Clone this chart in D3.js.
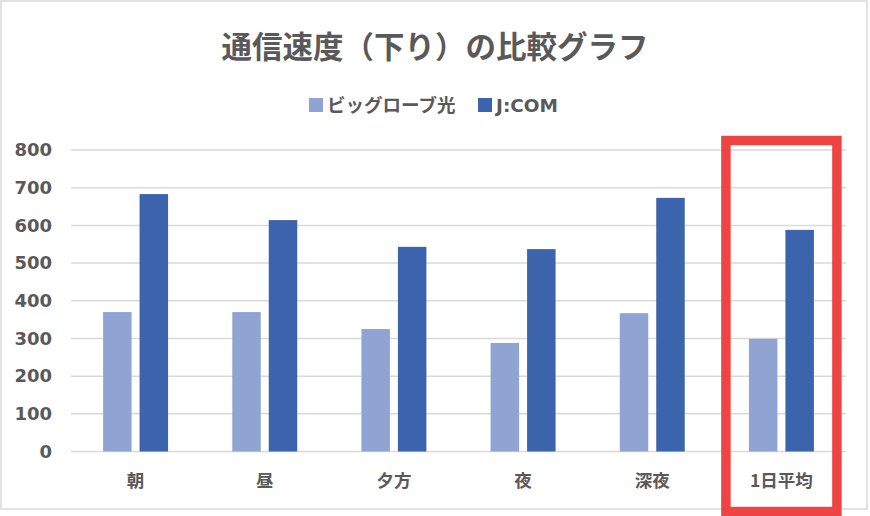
<!DOCTYPE html>
<html>
<head>
<meta charset="utf-8">
<script src="https://cdn.jsdelivr.net/npm/d3@7"></script>
<style>
  html, body { margin: 0; padding: 0; background: #fff; }
  svg { display: block; }
</style>
</head>
<body>
<svg id="chart" width="870" height="516"></svg>
<script>
const categories = ["朝", "昼", "夕方", "夜", "深夜", "1日平均"];
const seriesNames = ["ビッグローブ光", "J:COM"];
const biglobe = [370, 370, 325, 288, 367, 299];
const jcom = [683, 614, 543, 537, 673, 588];
const yTicks = [0, 100, 200, 300, 400, 500, 600, 700, 800];
const titleText = "通信速度（下り）の比較グラフ";
const highlightCategory = "1日平均";

const colors = ["#90A4D4", "#3C64AC"];
const textColor = "#595959";
const numFont = "'DejaVu Sans', 'Noto Sans CJK JP', sans-serif";
const jpFont = "'Noto Sans CJK JP', 'DejaVu Sans', sans-serif";

const svg = d3.select("#chart");
const W = 870, H = 516;
const plot = { left: 71, right: 846, top: 150, bottom: 451.5 };

// chart border
svg.append("rect")
  .attr("x", 1).attr("y", 1).attr("width", W - 4).attr("height", 508)
  .attr("fill", "#fff").attr("stroke", "#d9d9d9").attr("stroke-width", 1.5);

const y = d3.scaleLinear().domain([0, 800]).range([plot.bottom, plot.top]);
const x0 = d3.scaleBand().domain(categories).range([plot.left, plot.right])
  .paddingInner(0.497).paddingOuter(0.2485);
const x1 = d3.scaleBand().domain(seriesNames).range([0, x0.bandwidth()])
  .paddingInner(0.219).paddingOuter(0);

// gridlines
svg.append("g").selectAll("line").data(yTicks).join("line")
  .attr("x1", plot.left).attr("x2", plot.right)
  .attr("y1", d => y(d)).attr("y2", d => y(d))
  .attr("stroke", "#d9d9d9").attr("stroke-width", 1.5);

// y axis labels
const yAxis = d3.axisLeft(y).tickValues(yTicks).tickSize(0).tickPadding(0);
const yg = svg.append("g").attr("transform", `translate(52,0)`).call(yAxis);
yg.select(".domain").remove();
yg.selectAll("text")
  .attr("fill", textColor)
  .style("font-family", numFont)
  .style("font-size", "18px")
  .style("font-weight", "bold");

// bars
const data = categories.map((c, i) => ({ cat: c, vals: [biglobe[i], jcom[i]] }));
const groups = svg.append("g").selectAll("g").data(data).join("g")
  .attr("transform", d => `translate(${x0(d.cat)},0)`);
groups.selectAll("rect")
  .data(d => d.vals.map((v, j) => ({ name: seriesNames[j], v, j })))
  .join("rect")
  .attr("x", d => x1(d.name))
  .attr("width", x1.bandwidth())
  .attr("y", d => y(d.v))
  .attr("height", d => y(0) - y(d.v))
  .attr("fill", d => colors[d.j]);

// x axis labels
const xAxis = d3.axisBottom(x0).tickSize(0).tickPadding(0);
const xg = svg.append("g").attr("transform", `translate(0,481)`).call(xAxis);
xg.select(".domain").remove();
xg.selectAll("text")
  .attr("fill", textColor)
  .attr("dy", "0.35em")
  .style("font-family", jpFont)
  .style("font-size", "17.5px")
  .style("font-weight", "bold");

// title
svg.append("text")
  .attr("x", 435).attr("y", 58)
  .attr("text-anchor", "middle")
  .attr("fill", textColor)
  .style("font-family", jpFont)
  .style("font-size", "30.5px")
  .style("font-weight", "bold")
  .text(titleText);

// legend
const legendItems = [
  { name: seriesNames[0], color: colors[0], sx: 309 },
  { name: seriesNames[1], color: colors[1], sx: 478 }
];
const lg = svg.append("g").selectAll("g").data(legendItems).join("g");
lg.append("rect")
  .attr("x", d => d.sx).attr("y", 98).attr("width", 14).attr("height", 14)
  .attr("fill", d => d.color);
lg.append("text")
  .attr("x", d => d.sx + 18).attr("y", 112)
  .attr("fill", textColor)
  .style("font-family", d => d.name === "J:COM" ? numFont : jpFont)
  .style("font-size", "18.5px")
  .style("font-weight", "bold")
  .text(d => d.name);

// highlight box
const hx = x0(highlightCategory);
const hcx = hx + x0.bandwidth() / 2;
svg.append("rect")
  .attr("x", hcx - 55.5).attr("y", 140.5)
  .attr("width", 111).attr("height", 371)
  .attr("fill", "none")
  .attr("stroke", "#EF4444")
  .attr("stroke-width", 9.5);
</script>
</body>
</html>
